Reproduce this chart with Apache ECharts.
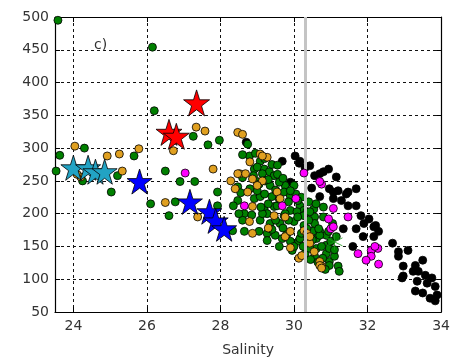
<!DOCTYPE html>
<html><head><meta charset="utf-8">
<script src="https://cdn.jsdelivr.net/npm/echarts@6/dist/echarts.min.js"></script>
<style>html,body{margin:0;padding:0;background:#fff}#c{width:453px;height:362px}</style>
</head><body><div id="c"></div>
<script>
const xTicks = [24, 26, 28, 30, 32, 34];
const yTicks = [50, 100, 150, 200, 250, 300, 350, 400, 450, 500];
const refSalinity = 30.3;
const panelLabel = 'c)';
const xName = 'Salinity';

const greenPts = [
[23.58,495],[26.15,454],[26.2,357],[23.63,289],[23.53,265],[24.3,300],[25.65,288],[24.25,250],[25.2,258],[25.03,233],
[26.1,215],[26.5,265],[26.6,197],[27.26,318],[27.66,305],[27.97,312],[26.9,249],[27.3,249],[27.92,233],[27.92,212],[26.77,218],
[28.74,306],[28.79,288],[29.08,280],[28.92,268],[29.19,268],[29.33,264],[29.46,258],[28.47,241],[29.35,243],[29.76,243],
[30.0,243],[29.73,233],[28.47,220],[28.92,223],[29.08,226],[29.9,227],[30.16,212],[29.19,206],[29.46,211],[29.9,205],
[30.27,205],[30.54,207],[28.65,200],[29.27,200],[29.73,197],[29.0,249],[29.14,261],[28.33,174],[29.0,271],
[28.65,173],[29.05,173],[29.27,170],[29.49,167],[29.27,159],[29.68,162],[29.9,158],[30.13,158],[29.95,144],[30.3,139],
[30.56,135],[30.61,147],[30.88,139],[30.96,127],[30.88,152],[29.35,185],[29.62,185],[30.0,188],[30.27,182],[30.54,174],
[30.7,173],[30.61,162],[30.88,167],[29.76,200],[30.08,203],[30.35,203],[30.56,195],[29.08,190],[29.54,212],[29.14,200],
[30.27,197],[30.43,203],[30.56,185],[30.7,167],[30.96,147],[31.1,135],[31.2,120],[31.23,112],[30.78,132],[30.96,121],
[30.43,147],[30.16,162],[30.67,177],[30.35,177],[30.94,173],
[28.55,232],[28.8,238],[29.0,235],[29.2,230],[29.4,226],[29.6,222],[29.85,218],[30.05,230],[30.2,225],[30.4,218],
[30.6,215],[30.8,210],[28.6,190],[28.85,198],[29.1,210],[29.3,215],[29.5,190],[29.7,178],[29.85,190],[30.1,195],
[30.2,170],[30.4,190],[30.5,160],[30.75,150],[30.8,195],[31.0,158],[31.05,185],[29.4,176],[29.6,150],[29.8,168],
[30.0,150],[30.25,150],[30.45,130],[30.65,126],[30.85,115],[31.1,145],[31.15,165],[29.2,250],[29.5,236],[29.6,248],
[28.6,255],[28.9,258],[29.05,245],[29.3,252],[29.55,260],[29.7,254],[28.95,292],[29.2,284],[29.4,275],[28.6,290],
[29.55,274],[30.1,220],[29.9,235],[28.35,212],[28.5,200]
];
const orangePts = [
[24.04,303],[24.92,288],[25.78,299],[25.25,291],[25.33,265],[26.5,217],[24.2,256],[24.1,260],[27.34,332],[27.58,326],
[26.72,296],[27.8,268],[28.47,324],[28.6,321],[27.38,195],
[29.08,291],[28.8,279],[29.27,286],[28.52,261],[28.68,261],[28.87,253],[29.14,250],[28.28,250],[29.0,243],[28.74,233],
[29.54,233],[29.62,223],[28.87,211],[28.47,261],[29.14,288],
[28.79,188],[28.87,170],[29.76,165],[30.13,132],[30.4,162],[30.43,155],[30.7,127],[30.75,120],[30.27,174],[30.35,170],
[29.76,195],[29.46,197],[29.9,173],[30.21,136],[30.43,165],[30.7,121],[30.75,117],[29.3,178],[28.4,238],[29.9,148],[30.55,142]
];
const magentaPts = [
[27.04,262],[28.65,212],[29.68,212],[30.05,223],[30.27,262],[30.75,245],[30.7,249],[30.94,192],[31.07,208],[31.0,177],
[31.07,180],[31.47,195],[32.28,147],[32.1,144],[32.1,135],[31.96,129],[32.3,123],[31.74,139],[32.2,150]
];
const blackPts = [
[28.7,309],[29.68,280],[30.03,288],[30.14,277],[30.43,273],[30.56,258],[30.8,264],[29.9,248],[30.48,239],[30.7,226],
[30.7,261],[30.94,268],[31.15,256],[30.96,238],[31.2,235],[31.07,223],[31.47,233],[31.69,238],[31.29,220],[31.47,212],
[31.69,212],[31.82,197],[32.04,192],[32.17,180],[31.34,177],[31.88,165],[31.9,185],[32.22,182],[32.3,173],[32.17,165],
[31.6,150],[31.69,177],[31.42,230],[31.07,233],[32.68,155],[32.84,135],[33.1,144],[32.84,142],[32.97,120],[32.97,105],
[33.3,121],[33.5,129],[33.38,112],[33.57,106],[33.35,97],[33.62,94],[33.3,82],[33.5,79],[33.84,89],[33.89,76],
[33.84,67],[33.7,71],[33.75,102],[33.24,112],[32.94,102],[30.16,280],[30.3,270]
];
const greenStar = [[31.1,157]];
const cyanStars = [[24.0,270],[24.4,270],[24.6,264],[24.85,264]];
const blueStars = [[25.8,249],[27.17,218],[27.7,203],[27.87,189],[28.1,177]];
const redStars = [[26.6,324],[26.8,318],[27.35,369]];

const chart = echarts.init(document.getElementById('c'), null, {renderer: 'canvas'});
const FONT = 'DejaVu Sans';
const lbl = {fontFamily: FONT, fontSize: 14, color: '#333'};
const grid = {type: [3, 3], color: '#111', width: 1};

function dots(data, color, z) {
  return {type: 'scatter', data, symbol: 'circle', symbolSize: 8, z,
    itemStyle: {color, borderColor: '#000', borderWidth: 0.8, opacity: 1}, silent: true, animation: false};
}
function stars(data, color, size, z) {
  return {type: 'scatter', data, symbol: 'path://M0,-50 L11.2,-15.5 L47.6,-15.5 L18.2,5.9 L29.4,40.5 L0,19.1 L-29.4,40.5 L-18.2,5.9 L-47.6,-15.5 L-11.2,-15.5 Z',
    symbolSize: size, z, itemStyle: {color, borderColor: '#000', borderWidth: 0.8, opacity: 1}, silent: true, animation: false};
}

chart.setOption({
  animation: false,
  backgroundColor: '#fff',
  grid: {left: 55, right: 7, top: 17, bottom: 48},
  title: {text: panelLabel, left: 89, top: 33, textStyle: {fontFamily: FONT, fontSize: 14, fontWeight: 'normal', color: '#333'}},
  xAxis: [
    {type: 'value', min: 23.5, max: 34, position: 'bottom',
     name: xName, nameLocation: 'middle', nameGap: 31, nameTextStyle: {fontFamily: FONT, fontSize: 14, color: '#333'},
     axisLine: {show: true, onZero: false, lineStyle: {color: '#000', width: 1.2}},
     axisTick: {show: true, inside: true, length: 5, customValues: xTicks, lineStyle: {color: '#000'}},
     axisLabel: Object.assign({customValues: xTicks, margin: 7}, lbl),
     splitLine: {show: true, lineStyle: grid}},
    {type: 'value', min: 23.5, max: 34, position: 'top',
     axisLine: {show: true, onZero: false, lineStyle: {color: '#000', width: 1.2}},
     axisTick: {show: true, inside: true, length: 5, customValues: xTicks, lineStyle: {color: '#000'}},
     axisLabel: {show: false}, splitLine: {show: false}}
  ],
  yAxis: [
    {type: 'value', min: 50, max: 500, interval: 50, position: 'left',
     axisLine: {show: true, onZero: false, lineStyle: {color: '#000', width: 1.2}},
     axisTick: {show: true, inside: true, length: 5, lineStyle: {color: '#000'}},
     axisLabel: Object.assign({margin: 6}, lbl),
     splitLine: {show: true, lineStyle: grid}},
    {type: 'value', min: 50, max: 500, interval: 50, position: 'right',
     axisLine: {show: true, onZero: false, lineStyle: {color: '#000', width: 1.2}},
     axisTick: {show: true, inside: true, length: 5, lineStyle: {color: '#000'}},
     axisLabel: {show: false}, splitLine: {show: false}}
  ],
  series: [
    {type: 'line', data: [], z: 1, silent: true,
     markLine: {silent: true, symbol: 'none', label: {show: false}, animation: false,
       lineStyle: {color: '#c4c4c4', width: 3, type: 'solid'}, data: [{xAxis: refSalinity}]}},
    dots(blackPts, '#000000', 2),
    dots(greenPts, '#008000', 3),
    dots(orangePts, '#e0a020', 4),
    dots(magentaPts, '#ff00ff', 5),
    {type: 'scatter', data: greenStar, symbol: 'path://M0,-10 L0,10 M-9,-5 L9,5 M-9,5 L9,-5', symbolSize: 16, z: 6,
     itemStyle: {color: 'none', borderColor: '#1a9a1a', borderWidth: 1}, silent: true},
    stars(cyanStars, '#22a3c4', 25, 7),
    stars(blueStars, '#0000ff', 25, 8),
    stars(redStars, '#ff0000', 26, 9)
  ]
});
</script>
</body></html>
